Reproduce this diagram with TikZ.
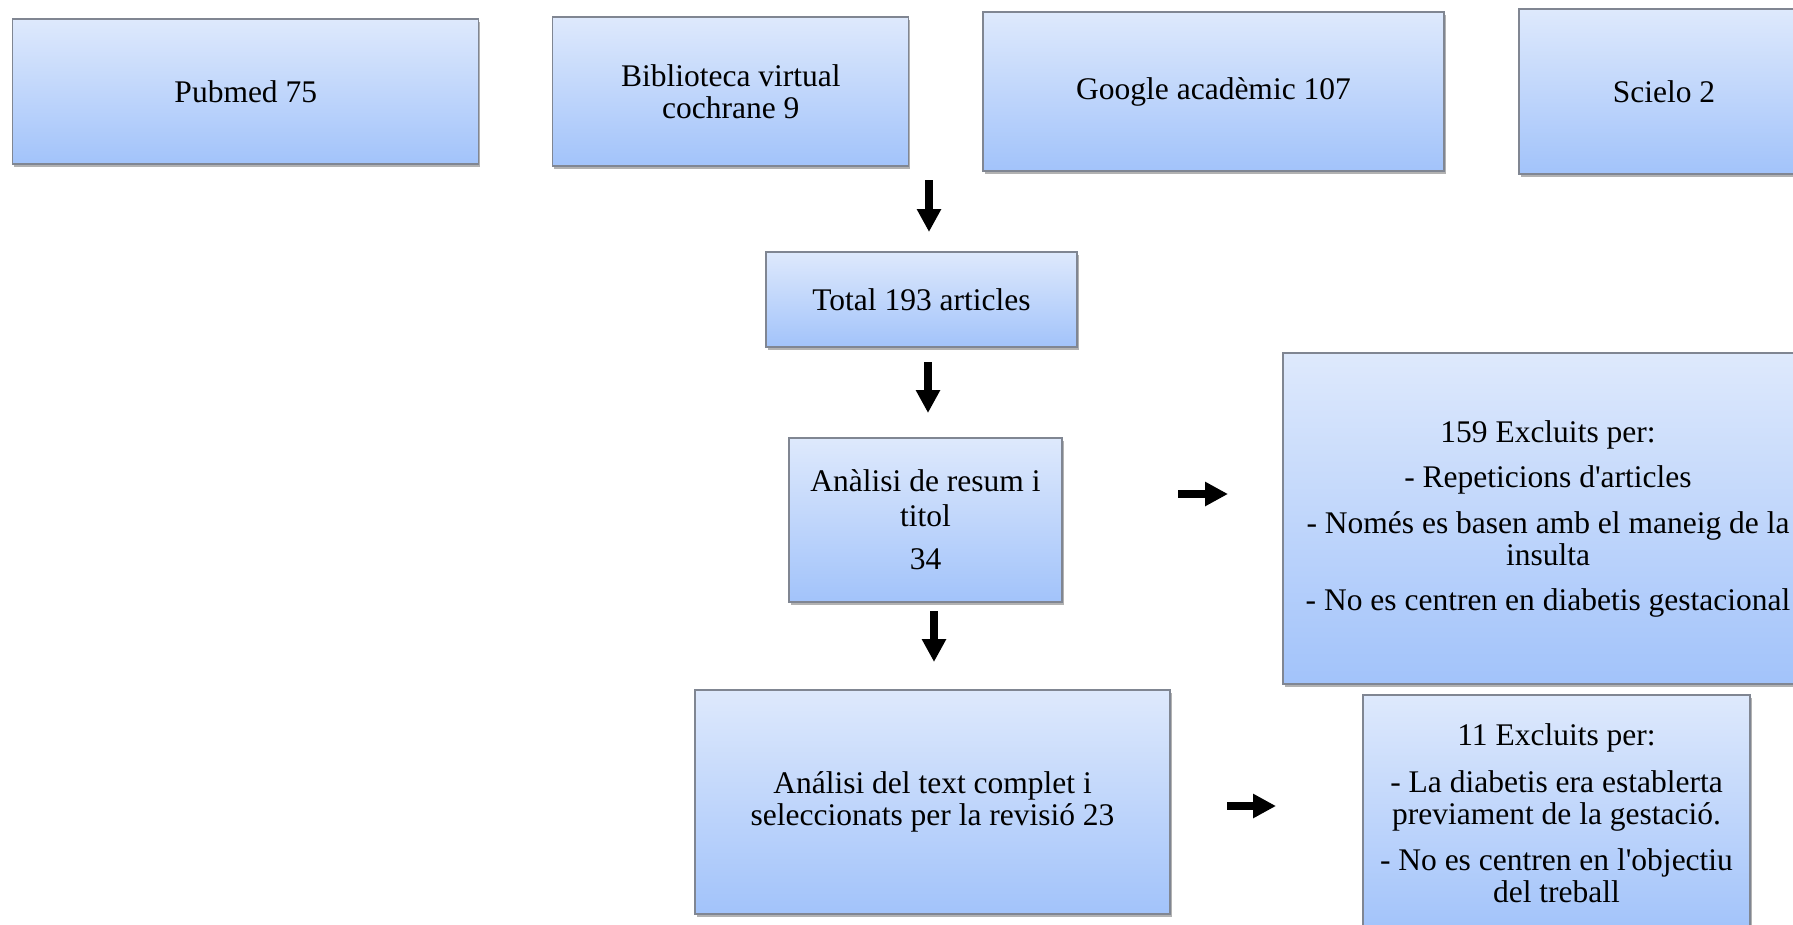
\documentclass[tikz,border=0pt]{standalone}
\usepackage{fontspec}
\setmainfont{Liberation Serif}[Ligatures=TeXOff]
\usetikzlibrary{shadows,arrows.meta}
\definecolor{boxtop}{RGB}{222,233,252}
\definecolor{boxbot}{RGB}{162,195,250}
\definecolor{boxline}{RGB}{128,134,146}
\tikzset{
  flowbox/.style={draw=boxline, line width=1.3pt, top color=boxtop, bottom color=boxbot,
    inner sep=0pt, align=center, font=\fontsize{31.5}{32}\selectfont,
    drop shadow={shadow xshift=1.5pt, shadow yshift=-3pt, opacity=0.3, fill=black}},
  blockarrow/.style={line width=8pt, -{Triangle[width=23pt,length=23pt]}}
}
\begin{document}
\begin{tikzpicture}[x=1pt,y=-1pt]
\clip (0,0) rectangle (1793,924);
% top row
\node[flowbox, minimum width=466pt, minimum height=145pt] (pub) at (245.8,91.5) {Pubmed 75};
\node[flowbox, minimum width=356pt, minimum height=149pt] (bib) at (730.8,91.5) {Biblioteca virtual\\cochrane 9};
\node[flowbox, minimum width=461pt, minimum height=159pt] (goo) at (1213.5,91.5) {Google acadèmic 107};
\node[flowbox, minimum width=290pt, minimum height=165pt] (sci) at (1664,91.5) {Scielo 2};
% central column
\node[flowbox, minimum width=311pt, minimum height=95pt] (tot) at (921.5,299.5) {Total 193 articles};
\node[flowbox, minimum width=273pt, minimum height=164pt] (ana) at (925.5,520) {Anàlisi de resum i\\[3pt]titol\\[11pt]34};
\node[flowbox, minimum width=475pt, minimum height=224pt] (full) at (932.5,802) {Análisi del text complet i\\seleccionats per la revisió 23};
% exclusions
\node[flowbox, minimum width=530pt, minimum height=331pt] (exa) at (1548,518.5)
  {159 Excluits per:\\[13pt]- Repeticions d'articles\\[14pt]- Només es basen amb el maneig de la\\insulta\\[13pt]- No es centren en diabetis gestacional};
\node[flowbox, minimum width=387pt, minimum height=236pt] (exb) at (1556.5,813)
  {11 Excluits per:\\[15pt]- La diabetis era establerta\\previament de la gestació.\\[14pt]- No es centren en l'objectiu\\del treball};
% arrows
\coordinate (a1s) at (929,180);  \coordinate (a1e) at (929,232);
\coordinate (a2s) at (928,362);  \coordinate (a2e) at (928,413);
\coordinate (a3s) at (934,611);  \coordinate (a3e) at (934,662);
\coordinate (a4s) at (1178,494); \coordinate (a4e) at (1228,494);
\coordinate (a5s) at (1227,806); \coordinate (a5e) at (1276,806);
\draw[blockarrow] (a1s) -- (a1e);
\draw[blockarrow] (a2s) -- (a2e);
\draw[blockarrow] (a3s) -- (a3e);
\draw[blockarrow] (a4s) -- (a4e);
\draw[blockarrow] (a5s) -- (a5e);
\end{tikzpicture}
\end{document}
